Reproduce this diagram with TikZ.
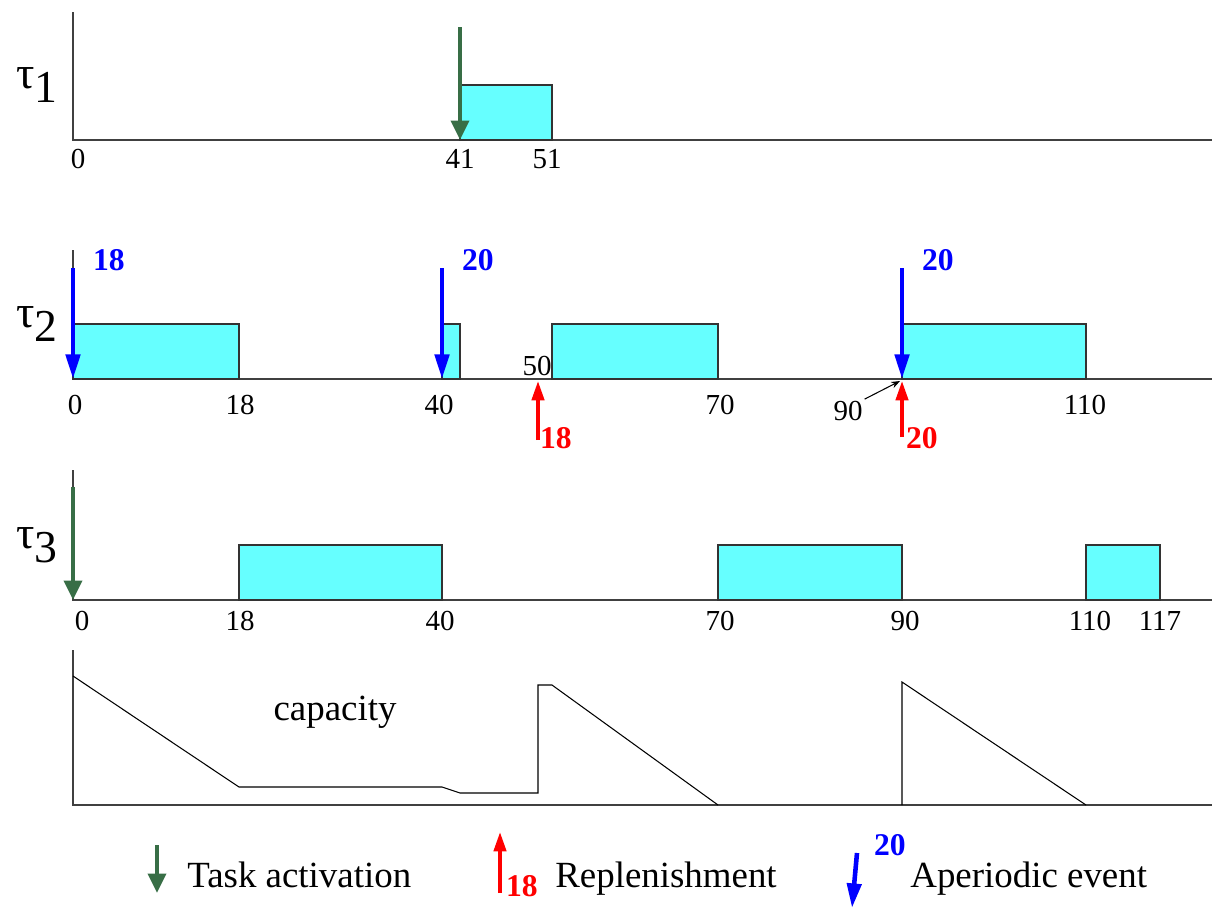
\documentclass[tikz,border=0pt]{standalone}
\usepackage{fontspec}
\setmainfont{Liberation Serif}
\usetikzlibrary{arrows.meta, positioning}

\definecolor{actGreen}{RGB}{56,110,70}
\definecolor{jobCyan}{RGB}{102,255,255}

\begin{document}
\begin{tikzpicture}[
    x=0.02cm, y=-0.02cm,
    % --- stiluri ---
    axis/.style={draw=black!75, line width=0.9pt},
    job/.style={draw=black!80, fill=jobCyan, line width=0.6pt},
    actArrow/.style={
            -{Triangle[length=11pt, width=10pt]},
            line width=2.6pt,
            color=actGreen
        },
    aperArrow/.style={
            -{Triangle[length=14pt, width=8pt]},
            line width=2.6pt,
            color=blue
        },
    replArrow/.style={
            -{Triangle[length=11pt, width=7pt]},
            line width=2pt,
            color=red
        },
    tick/.style={font=\fontsize{16.5}{16.5}\selectfont, inner sep=1pt},
    aperLbl/.style={font=\fontsize{18}{18}\selectfont\bfseries, color=blue, inner sep=1pt},
    replLbl/.style={font=\fontsize{18}{18}\selectfont\bfseries, color=red, inner sep=1pt},
    task/.style={font=\fontsize{26}{26}\selectfont, inner sep=0pt},
    legend/.style={font=\fontsize{21}{21}\selectfont, anchor=base west, inner sep=0pt}
    ]
    \useasboundingbox (0,0) rectangle (1212,917);

    % 1. tau_1
    \node[task] (tau1) at (37,85) {\raisebox{0.3em}{τ}1};
    \draw[axis] (73,12) -- (73,140) -- (1212,140);
    \draw[job] (460,85) rectangle (552,140);
    \coordinate (act1) at (460,27);
    \coordinate (act1end) at (460,140);
    \draw[actArrow] (act1) -- (act1end);
    \node[tick] (t1a) at (78,159) {0};
    \node[tick] (t1b) at (460,159) {41};
    \node[tick] (t1c) at (547,159) {51};

    % 2. tau_2
    \node[task] (tau2) at (37,324) {\raisebox{0.3em}{τ}2};
    \draw[axis] (73,250) -- (73,379) -- (1212,379);
    \draw[job] (73,324) rectangle (239,379);
    \draw[job] (442,324) rectangle (460,379);
    \draw[job] (552,324) rectangle (718,379);
    \draw[job] (902,324) rectangle (1086,379);
    % evenimente aperiodice
    \foreach \x/\c [count=\i] in {73/18, 442/20, 902/20} {
        \coordinate (ap\i) at (\x,268);
        \coordinate (ap\i end) at (\x,379);
        \draw[aperArrow] (ap\i) -- (ap\i end);
        \node[aperLbl, anchor=west] (apl\i) at (\x+18,260) {\c};
    }
    % reincarcari
    \coordinate (rp1) at (538,440);
    \coordinate (rp1end) at (538,381);
    \draw[replArrow] (rp1) -- (rp1end);
    \node[replLbl, anchor=west] (rpl1) at (538,438) {18};
    \coordinate (rp2) at (902,437);
    \coordinate (rp2end) at (902,381);
    \draw[replArrow] (rp2) -- (rp2end);
    \node[replLbl, anchor=west] (rpl2) at (904,438) {20};
    % etichete
    \node[tick] (t2a) at (75,405) {0};
    \node[tick] (t2b) at (240,405) {18};
    \node[tick] (t2c) at (439,405) {40};
    \node[tick] (t2d) at (537,366) {50};
    \node[tick] (t2e) at (720,405) {70};
    \node[tick] (t2f) at (1085,405) {110};
    \node[tick] (t2g) at (848,411) {90};
    \coordinate (p90) at (900,381);
    \draw[-{Stealth[length=5pt]}, line width=0.6pt] (t2g.north east) -- (p90);

    % 3. tau_3
    \node[task] (tau3) at (37,545) {\raisebox{0.3em}{τ}3};
    \draw[axis] (73,470) -- (73,600) -- (1212,600);
    \foreach \a/\b in {239/442, 718/902, 1086/1160}
        \draw[job] (\a,545) rectangle (\b,600);
    \coordinate (act3) at (73,487);
    \coordinate (act3end) at (73,600);
    \draw[actArrow] (act3) -- (act3end);
    \foreach \x/\t [count=\i] in {82/0, 240/18, 440/40, 720/70, 905/90, 1090/110, 1160/117}
        \node[tick] (t3\i) at (\x,621) {\t};

    % 4. capacitate
    \draw[axis] (73,650) -- (73,805) -- (1212,805);
    \draw[line width=0.6pt] (73,676) -- (239,787) -- (442,787) -- (460,793) -- (538,793)
        -- (538,685) -- (552,685) -- (718,805);
    \draw[line width=0.6pt] (902,805) -- (902,682) -- (1086,805);
    \node[font=\fontsize{21}{21}\selectfont] (cap) at (335,712) {capacity};

    % Legenda
    \coordinate (lgA) at (157,845);
    \coordinate (lgAend) at (157,893);
    \draw[actArrow] (lgA) -- (lgAend);
    \node[legend] (lgAt) at (187,887) {Task activation};
    \coordinate (lgR) at (500,893);
    \coordinate (lgRend) at (500,832);
    \draw[replArrow] (lgR) -- (lgRend);
    \node[replLbl, anchor=west] (lgRl) at (504,886) {18};
    \node[legend] (lgRt) at (555,887) {Replenishment};
    \coordinate (lgP) at (857,853);
    \coordinate (lgPend) at (852,908);
    \draw[aperArrow] (lgP) -- (lgPend);
    \node[aperLbl, anchor=west] (lgPl) at (872,845) {20};
    \node[legend] (lgPt) at (910,887) {Aperiodic event};

\end{tikzpicture}
\end{document}
